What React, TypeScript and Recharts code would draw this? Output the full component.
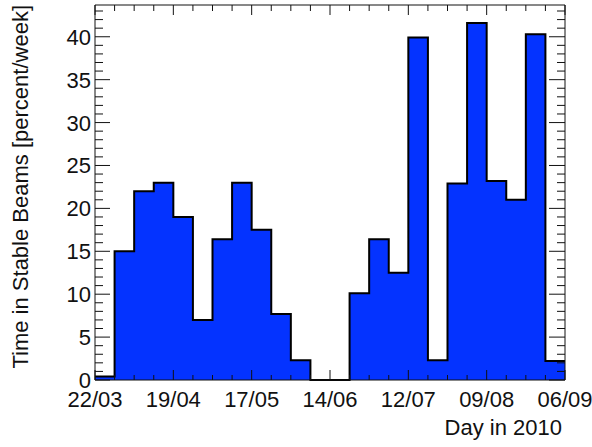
import { Area, AreaChart, ReferenceLine, XAxis, YAxis } from "recharts";

// weekly fraction of time in stable beams, one bin per week starting 22/03
const binValues = [
  0.4, 15, 22, 23, 19, 7, 16.4, 23, 17.5, 7.7, 2.3, 0, 0, 10.1, 16.4, 12.5, 39.9, 2.3, 22.9, 41.6,
  23.2, 21.0, 40.3, 2.2,
];
const dateLabels = ["22/03", "19/04", "17/05", "14/06", "12/07", "09/08", "06/09"];
const Y_MAX = 43.7;

const W = 592;
const H = 447;
const M = { top: 5, right: 27, bottom: 0, left: 0 };
const Y_AXIS_W = 95;
const X_AXIS_H = 67;
const PLOT_TOP = M.top;
const PLOT_RIGHT = W - M.right;

const FONT = "'Liberation Sans', Arial, Helvetica, sans-serif";
const FS = 22;
const INK = "#111";

// step histogram needs a closing point at the right edge
const data = [
  ...binValues.map((v, i) => ({ week: i, v })),
  { week: binValues.length, v: binValues[binValues.length - 1] },
];
const xTicks = Array.from({ length: binValues.length + 1 }, (_, i) => i);
const yTicks = Array.from({ length: Math.floor(Y_MAX) + 1 }, (_, i) => i);

function XTick({ x, y, payload }: any) {
  const major = payload.value % 4 === 0;
  const len = major ? 10 : 5;
  return (
    <g>
      <line x1={x} y1={y} x2={x} y2={y - len} stroke={INK} />
      <line x1={x} y1={PLOT_TOP} x2={x} y2={PLOT_TOP + (major ? 10 : 6)} stroke={INK} />
      {major && (
        <text x={x} y={y + 27} textAnchor="middle" fontSize={FS} fontFamily={FONT} fill={INK}>
          {dateLabels[payload.value / 4]}
        </text>
      )}
    </g>
  );
}

function YTick({ x, y, payload }: any) {
  const major = payload.value % 5 === 0;
  return (
    <g>
      <line x1={x} y1={y} x2={x + (major ? 15 : 8)} y2={y} stroke={INK} />
      <line x1={PLOT_RIGHT} y1={y} x2={PLOT_RIGHT - (major ? 16 : 8)} y2={y} stroke={INK} />
      {major && (
        <text x={x - 4} y={y + 8} textAnchor="end" fontSize={FS} fontFamily={FONT} fill={INK}>
          {payload.value}
        </text>
      )}
    </g>
  );
}

export default function App() {
  return (
    <div style={{ position: "absolute", left: 0, top: 0, background: "#fff" }}>
      <AreaChart width={W} height={H} data={data} margin={M}>
        <Area
          type="stepAfter"
          dataKey="v"
          fill="#0433ff"
          fillOpacity={1}
          stroke="#000"
          strokeWidth={2}
          dot={false}
          activeDot={false}
          isAnimationActive={false}
        />
        <ReferenceLine y={Y_MAX} stroke={INK} />
        <ReferenceLine x={binValues.length} stroke={INK} />
        <XAxis
          dataKey="week"
          type="number"
          domain={[0, binValues.length]}
          ticks={xTicks}
          interval={0}
          height={X_AXIS_H}
          tickLine={false}
          tickSize={0}
          tickMargin={0}
          stroke={INK}
          tick={<XTick />}
          label={() => (
            <text x={562} y={435} textAnchor="end" fontSize={FS} fontFamily={FONT} fill={INK}>
              Day in 2010
            </text>
          )}
        />
        <YAxis
          type="number"
          domain={[0, Y_MAX]}
          ticks={yTicks}
          interval={0}
          width={Y_AXIS_W}
          tickLine={false}
          tickSize={0}
          tickMargin={0}
          stroke={INK}
          tick={<YTick />}
          label={() => (
            <text
              x={28}
              y={5}
              transform="rotate(-90, 28, 5)"
              textAnchor="end"
              fontSize={FS}
              fontFamily={FONT}
              fill={INK}
            >
              Time in Stable Beams [percent/week]
            </text>
          )}
        />
      </AreaChart>
    </div>
  );
}
